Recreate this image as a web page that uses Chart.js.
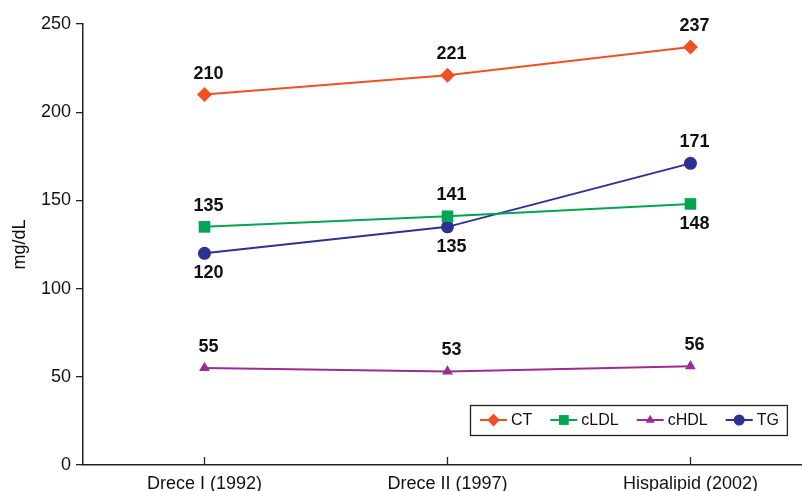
<!DOCTYPE html>
<html><head><meta charset="utf-8">
<script src="https://cdn.jsdelivr.net/npm/chart.js@4/dist/chart.umd.min.js"></script>
<style>html,body{margin:0;padding:0;background:#fff}</style>
</head><body>
<canvas id="c" width="802" height="491"></canvas>
<script>
const categories = ['Drece I (1992)', 'Drece II (1997)', 'Hispalipid (2002)'];
const seriesNames = ['CT', 'cLDL', 'cHDL', 'TG'];
const ctValues = [210, 221, 237];
const cldlValues = [135, 141, 148];
const chdlValues = [55, 53, 56];
const tgValues = [120, 135, 171];
const yTicks = [0, 50, 100, 150, 200, 250];
const yAxisTitle = 'mg/dL';

const FONT = '"Liberation Sans", Arial, Helvetica, sans-serif';
const toPts = vals => vals.map((v, i) => ({x: i, y: v}));

const specs = [
  {vals: ctValues, color: '#EE5124', style: 'rectRot', r: 7.5, side: ['above','above','above']},
  {vals: cldlValues, color: '#00A551', style: 'rect', r: 8.2, side: ['above','above','below']},
  {vals: chdlValues, color: '#9C2C93', style: 'triangle', r: 6.2, side: ['above','above','above']},
  {vals: tgValues, color: '#2E3191', style: 'circle', r: 6.5, side: ['below','below','above']}
];

const datasets = specs.map((s, i) => ({
  label: seriesNames[i],
  data: toPts(s.vals),
  borderColor: s.color,
  backgroundColor: s.color,
  borderWidth: 2,
  pointStyle: s.style,
  pointRadius: s.r,
  pointHoverRadius: s.r,
  pointBorderWidth: 0,
  pointBackgroundColor: s.color,
  tension: 0,
  labelSide: s.side
}));

const valueLabels = {
  id: 'valueLabels',
  afterDatasetsDraw(chart) {
    const ctx = chart.ctx;
    ctx.save();
    ctx.font = 'bold 18px ' + FONT;
    ctx.fillStyle = '#111';
    ctx.textAlign = 'center';
    ctx.textBaseline = 'middle';
    chart.data.datasets.forEach((ds, di) => {
      const meta = chart.getDatasetMeta(di);
      meta.data.forEach((pt, j) => {
        const dy = ds.labelSide[j] === 'above' ? -21 : 20;
        ctx.fillText(String(ds.data[j].y), pt.x + 4, pt.y + dy);
      });
    });
    ctx.restore();
  }
};

const innerTicks = {
  id: 'innerTicks',
  afterDraw(chart) {
    const sx = chart.scales.x;
    const ctx = chart.ctx;
    ctx.save();
    ctx.strokeStyle = '#222';
    ctx.lineWidth = 1.3;
    sx.ticks.forEach(t => {
      const px = Math.round(sx.getPixelForValue(t.value)) + 0.5;
      ctx.beginPath();
      ctx.moveTo(px, sx.top);
      ctx.lineTo(px, sx.top - 8);
      ctx.stroke();
    });
    ctx.restore();
  }
};

function drawMarker(ctx, style, r, x, y, color) {
  if (Chart.helpers && Chart.helpers.drawPoint) {
    ctx.fillStyle = color; ctx.strokeStyle = color; ctx.lineWidth = 0.01;
    Chart.helpers.drawPoint(ctx, {pointStyle: style, radius: r, borderWidth: 0, rotation: 0}, x, y);
    return;
  }
  ctx.fillStyle = color;
  ctx.beginPath();
  ctx.arc(x, y, r, 0, Math.PI * 2);
  ctx.fill();
}

const boxLegend = {
  id: 'boxLegend',
  afterDraw(chart) {
    const ctx = chart.ctx;
    ctx.save();
    ctx.font = '16px ' + FONT;
    ctx.textBaseline = 'middle';
    ctx.textAlign = 'left';
    const left = 470, top = 405, h = 30, cy = top + h / 2;
    let x = left + 10;
    const lineLen = 27, gapText = 4, gapItem = 18;
    const items = chart.data.datasets.map((ds, i) => ({ds, w: ctx.measureText(ds.label).width}));
    items.forEach(({ds, w}, i) => {
      ctx.strokeStyle = ds.borderColor;
      ctx.lineWidth = 2;
      ctx.beginPath();
      ctx.moveTo(x, cy); ctx.lineTo(x + lineLen, cy); ctx.stroke();
      drawMarker(ctx, ds.pointStyle, ds.pointRadius * 0.85, x + lineLen / 2, cy, ds.borderColor);
      ctx.fillStyle = '#111';
      ctx.fillText(ds.label, x + lineLen + gapText, cy + 1);
      x += lineLen + gapText + w + (i < items.length - 1 ? gapItem : 0);
    });
    const right = x + 8;
    ctx.strokeStyle = '#222';
    ctx.lineWidth = 1.3;
    ctx.strokeRect(left + 0.5, top + 0.5, right - left, h);
    ctx.restore();
  }
};

new Chart(document.getElementById('c'), {
  type: 'line',
  data: {datasets},
  options: {
    responsive: false,
    devicePixelRatio: 1,
    animation: false,
    events: [],
    layout: {autoPadding: false, padding: {top: 24, right: 0, bottom: 0, left: 0}},
    plugins: {legend: {display: false}, tooltip: {enabled: false}, title: {display: false}},
    scales: {
      x: {
        type: 'linear',
        min: -0.5,
        max: 2.459,
        bounds: 'data',
        afterBuildTicks(scale) { scale.ticks = categories.map((c, i) => ({value: i})); },
        afterFit(scale) { scale.height = 26; scale.paddingLeft = 0; scale.paddingRight = 0; },
        grid: {display: false},
        border: {display: true, color: '#222', width: 1.5},
        ticks: {
          autoSkip: false,
          maxRotation: 0,
          padding: 0,
          color: '#111',
          font: {family: FONT, size: 18},
          callback: v => categories[v]
        }
      },
      y: {
        min: 0,
        max: 250,
        afterBuildTicks(scale) { scale.ticks = yTicks.map(v => ({value: v})); },
        afterFit(scale) { scale.width = 83; },
        grid: {display: true, drawOnChartArea: false, drawTicks: true, tickLength: 7, color: '#222', lineWidth: 1.3},
        border: {display: true, color: '#222', width: 1.5},
        ticks: {padding: 5, color: '#111', font: {family: FONT, size: 18}},
        title: {display: true, text: yAxisTitle, color: '#111', font: {family: FONT, size: 18}, padding: {top: 9, bottom: 0}}
      }
    }
  },
  plugins: [valueLabels, innerTicks, boxLegend]
});
</script>
</body></html>
